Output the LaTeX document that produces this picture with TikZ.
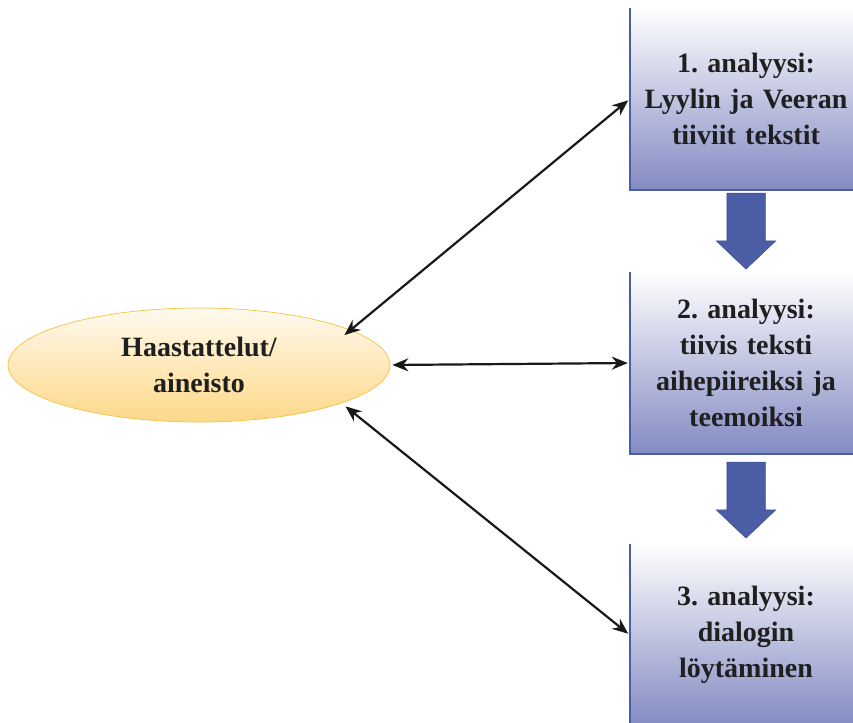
\documentclass[tikz,border=0pt]{standalone}
\usepackage{fontspec}
\setmainfont{Liberation Serif}
\usetikzlibrary{shapes.geometric,shapes.arrows,arrows.meta}
\definecolor{boxtop}{RGB}{255,255,255}
\definecolor{boxbot}{RGB}{130,138,194}
\definecolor{boxline}{RGB}{74,93,165}
\definecolor{elltop}{RGB}{255,250,238}
\definecolor{ellbot}{RGB}{253,216,136}
\definecolor{ellline}{RGB}{246,192,70}
\frenchspacing

\begin{document}
\begin{tikzpicture}[x=1pt,y=-1pt,>={Stealth[length=16pt,width=13pt]},
  every node/.style={font=\fontsize{28}{36}\selectfont\bfseries,text=black!88},
  stagebox/.style={rectangle,minimum width=232pt,minimum height=182pt,
    text width=225pt,align=center,inner sep=0pt,
    top color=boxtop,bottom color=boxbot},
  source/.style={ellipse,minimum width=382pt,minimum height=114pt,
    align=center,draw=ellline,line width=0.7pt,
    top color=elltop,bottom color=ellbot},
  downarrow/.style={single arrow,shape border rotate=270,inner sep=19pt,
    minimum height=76pt,single arrow head extend=10.5pt,
    single arrow tip angle=93,
    fill=boxline,draw=boxline!85!black,line width=0.5pt},
  link/.style={<->,line width=2.2pt,black!90}]
\useasboundingbox (0,0) rectangle (853,722);
\node (hs) at (199,365) [source] {Haastattelut/\\aineisto};
\node (a1) at (746,99) [stagebox] {1. analyysi:\\Lyylin ja Veeran\\tiiviit tekstit};
\node (a2) at (746,363) [stagebox] {2. analyysi:\\tiivis teksti\\aihepiireiksi ja\\teemoiksi};
\node (a3) at (746,635) [stagebox] {3. analyysi:\\dialogin\\löytäminen};
% blue borders left and bottom
\draw [boxline,line width=1.5pt] (a1.north west) -- (a1.south west) -- (a1.south east);
\draw [boxline,line width=1.5pt] (a2.north west) -- (a2.south west) -- (a2.south east);
\draw [boxline,line width=1.5pt] (a3.north west) -- (a3.south west) -- (a3.south east);
\node (d1) at (746,222) [downarrow] {};
\node (d2) at (746,491) [downarrow] {};
\draw [link,shorten >=2pt,shorten <=-8pt] (hs.13) -- (a1.west);
\draw [link,shorten >=2pt,shorten <=2pt] (hs.east) -- (a2.west);
\draw [link,shorten >=2pt,shorten <=5pt] (hs.-15) -- (a3.west);
\end{tikzpicture}
\end{document}
